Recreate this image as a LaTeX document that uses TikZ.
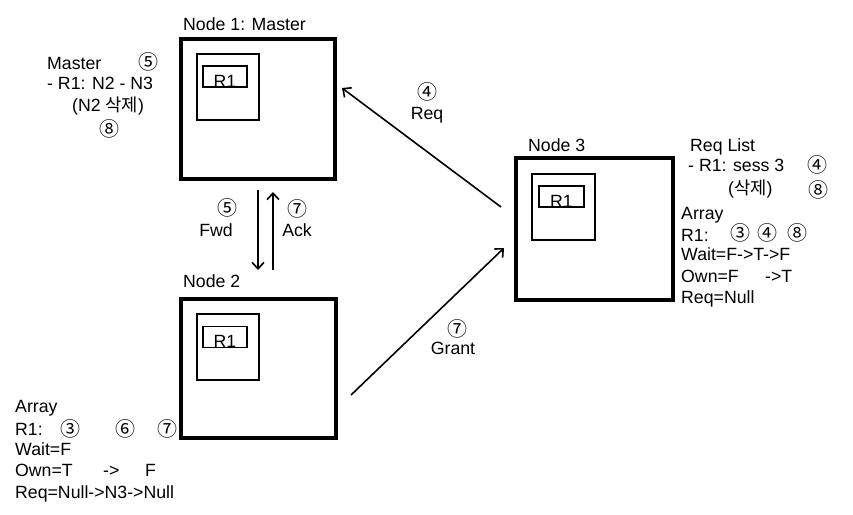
\documentclass[tikz,border=0pt]{standalone}
\usepackage{fontspec}
\setmainfont{Liberation Sans}
\newfontfamily\kr{Noto Sans CJK KR}
\usetikzlibrary{arrows.meta}
\newcommand{\cnum}[1]{{\kr\fontsize{20}{20}\selectfont #1}}
\begin{document}
\begin{tikzpicture}[x=1pt,y=-1pt,
  bigbox/.style={draw, line width=3.2pt, minimum width=#1, minimum height=140, inner sep=0},
  inbox/.style={draw, line width=1.1pt, minimum width=62, minimum height=66, inner sep=0},
  rbox/.style={draw, line width=1.3pt, minimum width=44, minimum height=21, inner sep=0},
  txt/.style={anchor=base west, inner sep=0, font=\fontsize{17.7}{20}\selectfont},
  rtxt/.style={anchor=base, inner sep=0, font=\fontsize{17.7}{20}\selectfont},
  ctxt/.style={anchor=center, inner sep=0},
  arr/.style={line width=1.6pt, -{Straight Barb[length=6.5pt,width=12pt,line width=1.6pt]}}
]
\useasboundingbox (0,0) rectangle (853,514);
% Node 1
\node[bigbox=154] (n1) at (258,109) {};
\node[inbox] (i1) at (228,87) {};
\node[rbox] (r1) at (225,76.5) {};
\node[rtxt] (r1t) at (225,87) {R1};
\node[txt] (n1l) at (183,30) {Node 1: Master};
% Node 2
\node[bigbox=155, minimum height=139] (n2) at (258.5,368.5) {};
\node[inbox] (i2) at (228,347) {};
\node[rbox] (r2) at (225,337) {};
\node[rtxt] (r2t) at (225,347.5) {R1};
\node[txt] (n2l) at (183,287) {Node 2};
% Node 3
\node[bigbox=157, minimum height=142] (n3) at (594.5,229) {};
\node[inbox, minimum width=63] (i3) at (563.5,207) {};
\node[rbox, minimum width=45] (r3) at (561.5,196.5) {};
\node[rtxt] (r3t) at (561.5,207) {R1};
\node[txt] (n3l) at (528,151) {Node 3};
% Master text
\node[txt] (m1) at (47,69) {Master};
\node[ctxt] (m5) at (148,62) {\cnum{⑤}};
\node[txt] (m2) at (47,89) {- R1: N2 - N3};
\node[txt] (m3) at (72,111) {(N2 {\kr 삭제})};
\node[ctxt] (m8) at (109,129) {\cnum{⑧}};
% Node 3 text
\node[txt] (q1) at (690,151) {Req List};
\node[txt] (q2) at (688,171) {- R1: sess 3};
\node[ctxt] (q4) at (817,165) {\cnum{④}};
\node[txt] (q3) at (728,194) {({\kr 삭제})};
\node[ctxt] (q8) at (818,190) {\cnum{⑧}};
\node[txt] (a1) at (681,219) {Array};
\node[txt] (a2) at (681,241) {R1:};
\node[ctxt] (a3) at (740,233) {\cnum{③}};
\node[ctxt] (a4) at (767,233) {\cnum{④}};
\node[ctxt] (a8) at (797,233) {\cnum{⑧}};
\node[txt] (a5) at (681,260) {Wait=F->T->F};
\node[txt] (a6) at (681,282) {Own=F};
\node[txt] (a6b) at (765,282) {->T};
\node[txt] (a7) at (681,303) {Req=Null};
% Node 2 text
\node[txt] (b1) at (15,412) {Array};
\node[txt] (b2) at (15,435) {R1:};
\node[ctxt] (b3) at (70,429) {\cnum{③}};
\node[ctxt] (b6) at (125,429) {\cnum{⑥}};
\node[ctxt] (b7) at (167,429) {\cnum{⑦}};
\node[txt] (b4) at (15,455) {Wait=F};
\node[txt] (b5) at (15,476) {Own=T};
\node[txt] (b5b) at (103,476) {->};
\node[txt] (b5c) at (145,476) {F};
\node[txt] (b8) at (15,498) {Req=Null->N3->Null};
% Arrows
\coordinate (reqS) at (501,207);
\coordinate (reqE) at (342,88);
\coordinate (grS) at (351,395);
\coordinate (grE) at (504,248);
\coordinate (fwS) at (258,190);
\coordinate (fwE) at (258,270);
\coordinate (akS) at (273,270);
\coordinate (akE) at (273,192);
\draw[arr] (reqS) -- (reqE);
\draw[arr] (grS) -- (grE);
\draw[arr] (fwS) -- (fwE);
\draw[arr] (akS) -- (akE);
% Arrow labels
\node[ctxt] (l4) at (427,92) {\cnum{④}};
\node[rtxt] (lreq) at (427,119) {Req};
\node[ctxt] (l5) at (227,208) {\cnum{⑤}};
\node[rtxt] (lfwd) at (216,236) {Fwd};
\node[ctxt] (l7a) at (297,209) {\cnum{⑦}};
\node[rtxt] (lack) at (297,236) {Ack};
\node[ctxt] (l7b) at (457,329) {\cnum{⑦}};
\node[rtxt] (lgr) at (453,354) {Grant};
\end{tikzpicture}
\end{document}
